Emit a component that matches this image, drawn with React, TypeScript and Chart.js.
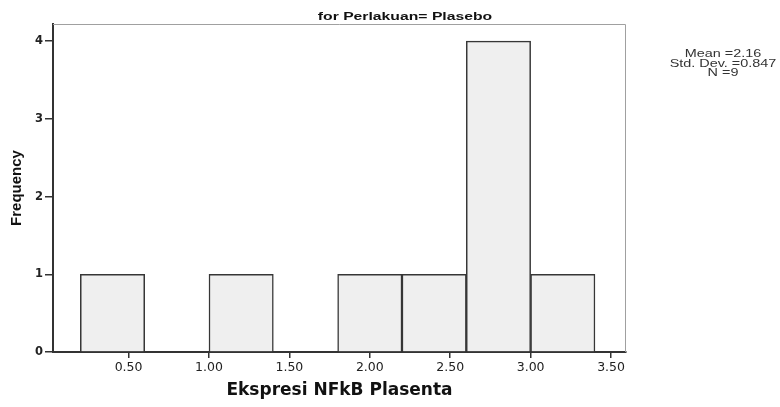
import React, { useEffect, useRef } from "react";
import { Chart, registerables } from "chart.js";

Chart.register(...registerables);

// ---- data ----
const chartTitle = "for Perlakuan= Plasebo";
const xAxisTitle = "Ekspresi NFkB Plasenta";
const yAxisTitle = "Frequency";
const binCenters = [0.4, 0.8, 1.2, 1.6, 2.0, 2.4, 2.8, 3.2];
const frequencies = [1, 0, 1, 0, 1, 1, 4, 1];
const xTickValues = [0.5, 1.0, 1.5, 2.0, 2.5, 3.0, 3.5];
const xTickLabels = ["0.50", "1.00", "1.50", "2.00", "2.50", "3.00", "3.50"];
const yTickValues = [0, 1, 2, 3, 4];
const statsLines = ["Mean =2.16", "Std. Dev. =0.847", "N =9"];

const W = 780;
const H = 407;

function drawStretched(
  ctx: CanvasRenderingContext2D,
  text: string,
  x: number,
  y: number,
  font: string,
  sx: number,
  align: CanvasTextAlign
) {
  ctx.save();
  ctx.font = font;
  ctx.textAlign = align;
  ctx.textBaseline = "alphabetic";
  ctx.translate(x, y);
  ctx.scale(sx, 1);
  ctx.fillText(text, 0, 0);
  ctx.restore();
}

const decorPlugin = {
  id: "decor",
  beforeDatasetsDraw(chart: any) {
    const { ctx, chartArea: a } = chart;
    ctx.save();
    ctx.strokeStyle = "#a0a0a0";
    ctx.lineWidth = 1;
    ctx.beginPath();
    ctx.moveTo(a.left, a.top + 0.5);
    ctx.lineTo(a.right - 0.5, a.top + 0.5);
    ctx.lineTo(a.right - 0.5, a.bottom);
    ctx.stroke();
    ctx.restore();
  },
  afterDraw(chart: any) {
    const ctx = chart.ctx as CanvasRenderingContext2D;
    ctx.save();
    ctx.fillStyle = "#111";
    drawStretched(ctx, chartTitle, 405, 20, 'bold 11px "Liberation Sans", Arial, sans-serif', 1.43, "center");
    ctx.fillStyle = "#333";
    statsLines.forEach((t, i) =>
      drawStretched(ctx, t, 723, 57 + i * 9.5, '10.3px "Liberation Sans", Arial, sans-serif', 1.4, "center")
    );
    ctx.restore();
  },
};

export default function App() {
  const ref = useRef<HTMLCanvasElement>(null);
  useEffect(() => {
    if (!ref.current) return;
    const chart = new Chart(ref.current, {
      type: "bar",
      data: {
        datasets: [
          {
            data: binCenters.map((x, i) => ({ x, y: frequencies[i] })),
            backgroundColor: "#efefef",
            borderColor: "#363636",
            borderWidth: 1.5,
            barPercentage: 1,
            categoryPercentage: 1,
          },
        ],
      },
      options: {
        animation: false,
        responsive: false,
        devicePixelRatio: 1,
        layout: { padding: { top: 24, right: 154, left: 0, bottom: 0 } },
        plugins: { legend: { display: false }, tooltip: { enabled: false }, title: { display: false } },
        scales: {
          x: {
            type: "linear",
            min: 0.03,
            max: 3.593,
            offset: false,
            afterBuildTicks: (s: any) => {
              s.ticks = xTickValues.map((v) => ({ value: v }));
            },
            afterFit: (s: any) => {
              s.height = 55;
            },
            ticks: {
              autoSkip: false,
              maxRotation: 0,
              padding: 2,
              color: "#222",
              font: { family: "DejaVu Sans", size: 12.5 },
              callback: (_v: any, i: number) => xTickLabels[i],
            },
            grid: {
              display: true,
              drawOnChartArea: false,
              drawTicks: true,
              tickLength: 6,
              color: "#333",
              lineWidth: 1.5,
              offset: false,
            },
            border: { display: true, color: "#333", width: 2 },
            title: {
              display: true,
              text: xAxisTitle,
              color: "#111",
              font: { family: "DejaVu Sans", weight: "bold", size: 17 },
              padding: { top: 0, bottom: 6 },
            },
          },
          y: {
            type: "linear",
            min: 0,
            max: 4.22,
            afterBuildTicks: (s: any) => {
              s.ticks = yTickValues.map((v) => ({ value: v }));
            },
            afterFit: (s: any) => {
              s.width = 53;
            },
            ticks: {
              autoSkip: false,
              padding: 2,
              color: "#222",
              font: { family: "DejaVu Sans", weight: "bold", size: 11.5 },
              callback: (v: any) => String(v),
            },
            grid: {
              display: true,
              drawOnChartArea: false,
              drawTicks: true,
              tickLength: 8,
              color: "#333",
              lineWidth: 1.5,
            },
            border: { display: true, color: "#333", width: 2 },
            title: {
              display: true,
              text: yAxisTitle,
              color: "#111",
              font: { family: "Liberation Sans", weight: "bold", size: 15 },
              padding: { top: 8, bottom: 0 },
            },
          },
        },
      } as any,
      plugins: [decorPlugin],
    });
    return () => chart.destroy();
  }, []);

  return (
    <div style={{ position: "absolute", left: 0, top: 0, width: W, height: H, background: "#fff" }}>
      <canvas ref={ref} width={W} height={H} style={{ width: W, height: H, display: "block" }} />
    </div>
  );
}
